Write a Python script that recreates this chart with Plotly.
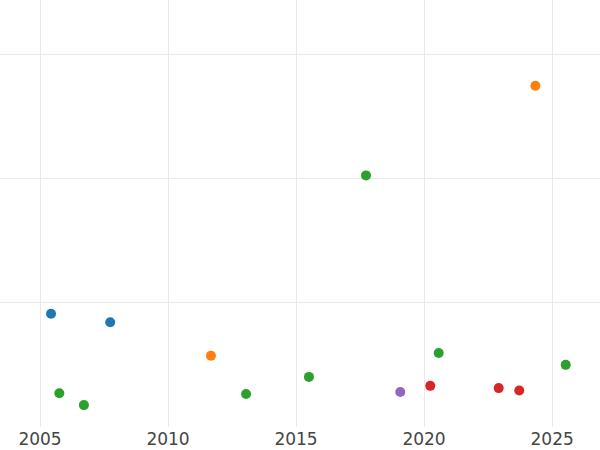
import pandas as pd
import plotly.graph_objects as go

# Point data (dates, values, group for colour).
dates = [
    "2005-06-07", "2007-09-29", "2005-10-03", "2006-09-19", "2011-09-05",
    "2013-01-18", "2015-07-04", "2017-09-25", "2019-01-27", "2020-03-30",
    "2020-07-28", "2022-12-01", "2023-09-20", "2024-05-07", "2025-07-14",
]
values = [9.11, 8.42, 2.72, 1.76, 5.73, 2.66, 4.03, 20.24, 2.82, 3.31, 5.95, 3.13, 2.93, 27.45, 5.0]
groups = ["A", "A", "C", "C", "B", "C", "C", "C", "E", "D", "C", "D", "D", "B", "C"]

GROUP_COLORS = {"A": "#1f77b4", "B": "#ff7f0e", "C": "#2ca02c", "D": "#d62728", "E": "#9467bd"}

df = pd.DataFrame({"date": pd.to_datetime(dates), "value": values, "group": groups})

fig = go.Figure()
for grp, color in GROUP_COLORS.items():
    sub = df[df["group"] == grp]
    fig.add_trace(
        go.Scatter(
            x=sub["date"],
            y=sub["value"],
            mode="markers",
            name=grp,
            marker=dict(color=color, size=10),
            showlegend=False,
        )
    )

fig.update_layout(
    width=600,
    height=450,
    margin=dict(t=0, b=23, l=0, r=0),
    plot_bgcolor="white",
    paper_bgcolor="white",
    font=dict(family="DejaVu Sans, sans-serif", size=17, color="#444"),
)
fig.update_xaxes(
    range=["2003-06-10", "2026-11-15"],
    dtick="M60",
    tick0="2005-01-01",
    tickformat="%Y",
    showgrid=True,
    gridcolor="#e9e9e9",
    gridwidth=1,
    zeroline=False,
    showline=False,
    ticks="",
)
fig.update_yaxes(
    range=[0, 34.35],
    tickvals=[10, 20, 30],
    showticklabels=False,
    showgrid=True,
    gridcolor="#e9e9e9",
    gridwidth=1,
    zeroline=False,
    showline=False,
)

# The page's default body margin would push the figure 8px in; drop it.
fig.write_html(
    "out.html",
    config={"displayModeBar": False},
    post_script="document.body.style.margin = '0';",
)
